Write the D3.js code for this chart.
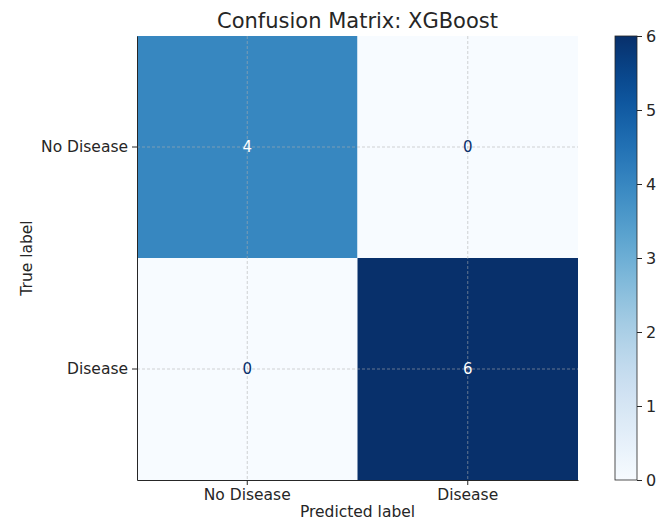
<!DOCTYPE html>
<html><head><meta charset="utf-8">
<script src="https://cdn.jsdelivr.net/npm/d3@7"></script>
<style>body{margin:0;background:#fff}</style>
</head><body>
<script>
const categories = ["No Disease", "Disease"];
const matrix = [[4, 0], [0, 6]];
const colorTicks = [0, 1, 2, 3, 4, 5, 6];
const title = "Confusion Matrix: XGBoost";

const W = 662, H = 522;
const L = 137, R = 578, T = 36, B = 480;
const svg = d3.select("body").append("svg").attr("width", W).attr("height", H)
  .style("font-family", "DejaVu Sans, sans-serif");

const x = d3.scaleBand().domain(categories).range([L, R]);
const y = d3.scaleBand().domain(categories).range([T, B]);
const vmax = d3.max(matrix.flat());
const color = d3.scaleSequential(d3.interpolateBlues).domain([0, vmax]);

const cells = [];
matrix.forEach((row, i) => row.forEach((v, j) => cells.push({t: categories[i], p: categories[j], v})));

svg.selectAll("rect.cell").data(cells).join("rect")
  .attr("x", d => x(d.p)).attr("y", d => y(d.t))
  .attr("width", x.bandwidth()).attr("height", y.bandwidth())
  .attr("fill", d => color(d.v));

// grid lines
const g = svg.append("g");
categories.forEach(c => {
  g.append("line").attr("x1", x(c) + x.bandwidth()/2).attr("x2", x(c) + x.bandwidth()/2)
    .attr("y1", T).attr("y2", B);
  g.append("line").attr("y1", y(c) + y.bandwidth()/2).attr("y2", y(c) + y.bandwidth()/2)
    .attr("x1", L).attr("x2", R);
});
g.selectAll("line").attr("stroke", "#b0b0b0").attr("stroke-opacity", 0.7)
  .attr("stroke-width", 0.8).attr("stroke-dasharray", "3,2");

svg.selectAll("text.ann").data(cells).join("text")
  .attr("x", d => x(d.p) + x.bandwidth()/2).attr("y", d => y(d.t) + y.bandwidth()/2)
  .attr("text-anchor", "middle").attr("dominant-baseline", "central")
  .attr("font-size", 15)
  .attr("fill", d => d.v > vmax/2 ? "#ffffff" : color(vmax))
  .text(d => d.v);

// axes
const xa = svg.append("g").attr("transform", `translate(0,${B})`)
  .call(d3.axisBottom(x).tickSize(5).tickSizeOuter(0).tickPadding(4));
const ya = svg.append("g").attr("transform", `translate(${L},0)`)
  .call(d3.axisLeft(y).tickSize(5).tickSizeOuter(0).tickPadding(4));
[xa, ya].forEach(a => {
  a.selectAll("text").attr("font-size", 15.5).attr("fill", "#262626").style("font-family", "DejaVu Sans, sans-serif");
  a.selectAll("line").attr("stroke", "#262626");
  a.select(".domain").attr("stroke", "#262626");
});

svg.append("text").attr("x", (L + R)/2).attr("y", 28).attr("text-anchor", "middle")
  .attr("font-size", 21).attr("fill", "#262626").text(title);
svg.append("text").attr("x", (L + R)/2).attr("y", 517).attr("text-anchor", "middle")
  .attr("font-size", 15.5).attr("fill", "#262626").text("Predicted label");
svg.append("text").attr("transform", `translate(32,${(T + B)/2}) rotate(-90)`)
  .attr("text-anchor", "middle").attr("font-size", 15.5).attr("fill", "#262626").text("True label");

// colorbar
const cbX = 615, cbW = 22;
const defs = svg.append("defs");
const grad = defs.append("linearGradient").attr("id", "cb").attr("x1", 0).attr("x2", 0).attr("y1", 1).attr("y2", 0);
d3.range(0, 1.0001, 0.05).forEach(t => grad.append("stop").attr("offset", t).attr("stop-color", d3.interpolateBlues(t)));
svg.append("rect").attr("x", cbX).attr("y", T).attr("width", cbW).attr("height", B - T)
  .attr("fill", "url(#cb)").attr("stroke", "#262626").attr("stroke-width", 0.8);
const cy = d3.scaleLinear().domain([0, vmax]).range([B, T]);
const ca = svg.append("g").attr("transform", `translate(${cbX + cbW},0)`)
  .call(d3.axisRight(cy).tickValues(colorTicks).tickFormat(d3.format("d")).tickSize(5).tickPadding(4));
ca.select(".domain").remove();
ca.selectAll("text").attr("font-size", 16).attr("fill", "#262626").style("font-family", "DejaVu Sans, sans-serif");
ca.selectAll("line").attr("stroke", "#262626");
</script>
</body></html>
